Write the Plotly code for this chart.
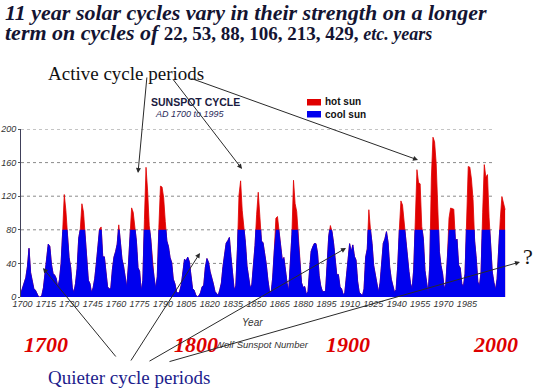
import plotly.graph_objects as go

# ---------------- data (yearly Wolf sunspot numbers) ----------------
years = list(range(1700, 2003))
sunspots = [
    5, 11, 16, 23, 36, 58, 29, 20, 10, 8,                       # 1700
    3, 0, 0, 2, 11, 27, 47, 63, 60, 39,                         # 1710
    28, 26, 22, 11, 21, 40, 78, 122, 103, 73,                   # 1720
    47, 35, 11, 5, 16, 34, 70, 81, 111, 101,                    # 1730
    73, 40, 20, 16, 5, 11, 22, 40, 60, 80.9,                    # 1740
    83.4, 47.7, 47.8, 30.7, 12.2, 9.6, 10.2, 32.4, 47.6, 54.0,  # 1750
    62.9, 85.9, 61.2, 45.1, 36.4, 20.9, 11.4, 37.8, 69.8, 106.1,  # 1760
    100.8, 81.6, 66.5, 34.8, 30.6, 7.0, 19.8, 92.5, 154.4, 125.9,  # 1770
    84.8, 68.1, 38.5, 22.8, 10.2, 24.1, 82.9, 132.0, 130.9, 118.1,  # 1780
    89.9, 66.6, 60.0, 46.9, 41.0, 21.3, 16.0, 6.4, 4.1, 6.8,    # 1790
    14.5, 34.0, 45.0, 43.1, 47.5, 42.2, 28.1, 10.1, 8.1, 2.5,   # 1800
    0.0, 1.4, 5.0, 12.2, 13.9, 35.4, 45.8, 41.1, 30.1, 23.9,    # 1810
    15.6, 6.6, 4.0, 1.8, 8.5, 16.6, 36.3, 49.6, 64.2, 67.0,     # 1820
    70.9, 47.8, 27.5, 8.5, 13.2, 56.9, 121.5, 138.3, 103.2, 85.7,  # 1830
    64.6, 36.7, 24.2, 10.7, 15.0, 40.1, 61.5, 98.5, 124.7, 96.3,   # 1840
    66.6, 64.5, 54.1, 39.0, 20.6, 6.7, 4.3, 22.7, 54.8, 93.8,   # 1850
    95.8, 77.2, 59.1, 44.0, 47.0, 30.5, 16.3, 7.3, 37.6, 74.0,  # 1860
    139.0, 111.2, 101.6, 66.2, 44.7, 17.0, 11.3, 12.4, 3.4, 6.0,   # 1870
    32.3, 54.3, 59.7, 63.7, 63.5, 52.2, 25.4, 13.1, 6.8, 6.3,   # 1880
    7.1, 35.6, 73.0, 85.1, 78.0, 64.0, 41.8, 26.2, 26.7, 12.1,  # 1890
    9.5, 2.7, 5.0, 24.4, 42.0, 63.5, 53.8, 62.0, 48.5, 43.9,    # 1900
    18.6, 5.7, 3.6, 1.4, 9.6, 47.4, 57.1, 103.9, 80.6, 63.6,    # 1910
    37.6, 26.1, 14.2, 5.8, 16.7, 44.3, 63.9, 69.0, 77.8, 64.9,  # 1920
    35.7, 21.2, 11.1, 5.7, 8.7, 36.1, 79.7, 114.4, 109.6, 88.8,  # 1930
    67.8, 47.5, 30.6, 16.3, 9.6, 33.2, 92.6, 151.6, 136.3, 134.7,  # 1940
    83.9, 69.4, 31.5, 13.9, 4.4, 38.0, 141.7, 190.2, 184.8, 159.0,  # 1950
    112.3, 53.9, 37.6, 27.9, 10.2, 15.1, 47.0, 93.8, 105.9, 105.5,  # 1960
    104.5, 66.6, 68.9, 38.0, 34.5, 15.5, 12.6, 27.5, 92.5, 155.4,  # 1970
    154.6, 140.4, 115.9, 66.6, 45.9, 17.9, 13.4, 29.4, 100.2, 157.6,  # 1980
    142.6, 145.7, 94.3, 54.6, 29.9, 17.5, 8.6, 21.5, 64.3, 93.3,   # 1990
    119.6, 111.0, 104.0,                                        # 2000
]
hot_threshold = 80
tick_labels = ["1700", "1715", "1730", "1745", "1760", "1775", "1790", "1805",
               "1820", "1835", "1850", "1865", "1880", "1895", "1910", "1925",
               "1940", "1955", "1970", "1985"]
y_ticks = [0, 40, 80, 120, 160, 200]
era_labels = ["1700", "1800", "1900", "2000"]

# ---------------- layout geometry ----------------
W, H = 535, 390
PW, PH = 487, 168
L, T = 21, 129
R, B = W - L - PW, H - T - PH
X0 = 1700
PX_PER_YEAR = 1.603
X1 = X0 + PW / PX_PER_YEAR


def px(x):
    return (x - L) / PW


def py(y):
    return (T + PH - y) / PH


SERIF = "Liberation Serif"
SANS = "Liberation Sans"

fig = go.Figure()

# hot sun: full curve (visible above threshold)
fig.add_trace(go.Scatter(
    x=years, y=sunspots, mode="lines", fill="tozeroy",
    line=dict(color="#e00000", width=0.8), fillcolor="#e00000",
    yaxis="y", showlegend=False, hoverinfo="skip"))
# cool sun: same curve, drawn on a sub-axis whose area ends at the threshold
fig.add_trace(go.Scatter(
    x=years, y=sunspots, mode="lines", fill="tozeroy",
    line=dict(color="#0000ee", width=0.8), fillcolor="#0000ee",
    yaxis="y2", showlegend=False, hoverinfo="skip"))

# tick positions (labels in the source are spaced slightly tighter than the data)
tick_step = 15 * 0.9725
tickvals = [X0 + 1.0 + i * tick_step for i in range(len(tick_labels))]

shapes = []
for v in y_ticks[1:]:
    shapes.append(dict(type="line", xref="paper", yref="y", x0=0, x1=0.973,
                       y0=v, y1=v, line=dict(color="#8a8a8a", width=1, dash="dot"),
                       layer="below"))
# legend swatches
shapes.append(dict(type="rect", xref="paper", yref="paper",
                   x0=px(307), x1=px(321), y0=py(99), y1=py(105.5),
                   fillcolor="#e00000", line=dict(width=0)))
shapes.append(dict(type="rect", xref="paper", yref="paper",
                   x0=px(307), x1=px(321), y0=py(111), y1=py(117.5),
                   fillcolor="#0000ee", line=dict(width=0)))

ann = []


def text(x, y, s, size, color, family=SANS, xanchor="center", **kw):
    ann.append(dict(xref="paper", yref="paper", x=px(x), y=py(y), text=s,
                    showarrow=False, xanchor=xanchor, yanchor="middle",
                    font=dict(family=family, size=size, color=color, **kw)))


def arrow(x_from, y_from, x_to, y_to):
    ann.append(dict(xref="paper", yref="paper", x=px(x_to), y=py(y_to),
                    ax=x_from - x_to, ay=y_from - y_to, text="",
                    showarrow=True, arrowhead=2, arrowsize=1, arrowwidth=1,
                    arrowcolor="#2a2a2a", standoff=0, startstandoff=0))


# title
text(3, 12, "<b><i>11 year solar cycles vary in their strength on a longer</i></b>", 22,
     "#141432", family=SERIF, xanchor="left")
text(3, 32, "<b><i>term on cycles of </i></b>"
            "<b><span style='font-size:19px'>22, 53, 88, 106, 213, 429, </span></b>"
            "<b><i><span style='font-size:18px'>etc. years</span></i></b>", 22,
     "#141432", family=SERIF, xanchor="left")

text(126, 73, "Active cycle periods", 19, "#111111", family=SERIF)
text(129, 377, "Quieter cycle periods", 19, "#1c1c8c", family=SERIF)

text(195, 102, "<b>SUNSPOT CYCLE</b>", 10.5, "#1a1a40")
text(190, 114, "<i>AD 1700 to 1995</i>", 9, "#2a2a5a")
text(323, 102, "<b>hot sun</b>", 10, "#111111", xanchor="left")
text(323, 114, "<b>cool sun</b>", 10, "#111111", xanchor="left")

text(252, 322, "<i>Year</i>", 10, "#333333")
text(262, 344, "<i>Wolf Sunspot Number</i>", 9.5, "#333333")

for xc, s in zip([46, 196, 348, 495], era_labels):
    text(xc, 344, "<b><i>" + s + "</i></b>", 22, "#dd0000", family=SERIF)

text(528, 256, "?", 22, "#111111", family=SERIF)

# arrows: active periods
arrow(147, 76, 138, 173)
arrow(172, 78, 242, 169)
arrow(190, 78, 418, 160)
# arrows: quieter periods
arrow(117, 358, 43, 268)
arrow(130, 362, 200, 253)
arrow(148, 362, 346, 248)
arrow(168, 362, 520, 262)

fig.update_layout(
    width=W, height=H,
    margin=dict(l=L, r=R, t=T, b=B, pad=0, autoexpand=False),
    paper_bgcolor="white", plot_bgcolor="rgba(0,0,0,0)",
    showlegend=False,
    xaxis=dict(range=[X0, X1], tickvals=tickvals, ticktext=tick_labels,
               showgrid=False, zeroline=False, showline=False, ticks="",
               tickangle=0, automargin=False,
               tickfont=dict(family=SANS, size=9, color="#333333", style="italic"),
               anchor="y"),
    yaxis=dict(range=[0, 200], domain=[0, 1], tickvals=y_ticks,
               showgrid=False, zeroline=False, showline=True, automargin=False,
               linecolor="#40405a", linewidth=1, ticks="outside", ticklen=2,
               tickcolor="#555555",
               tickfont=dict(family=SANS, size=9, color="#333333", style="italic"),
               anchor="x"),
    yaxis2=dict(range=[0, hot_threshold], domain=[0, hot_threshold / 200],
                visible=False, anchor="x", fixedrange=True, automargin=False),
    shapes=shapes,
    annotations=ann,
)

# remove the browser's default 8px page margin so the figure sits at the corner
fig.write_html("out.html", config={"displayModeBar": False},
               post_script="document.body.style.margin='0';")
